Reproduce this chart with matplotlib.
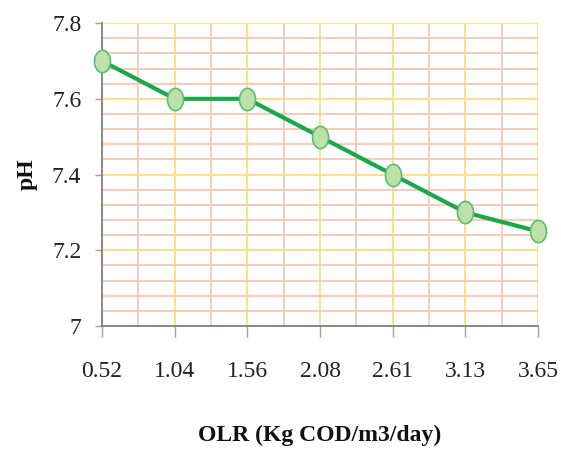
import matplotlib
matplotlib.use("Agg")
import matplotlib.pyplot as plt
import numpy as np
from matplotlib.path import Path
from matplotlib.ticker import MultipleLocator, FixedLocator

categories = ["0.52", "1.04", "1.56", "2.08", "2.61", "3.13", "3.65"]
ph_values = [7.7, 7.6, 7.6, 7.5, 7.4, 7.3, 7.25]
y_ticks = [7.0, 7.2, 7.4, 7.6, 7.8]
y_tick_labels = ["7", "7.2", "7.4", "7.6", "7.8"]

plt.rcParams['font.family'] = ['Liberation Serif', 'DejaVu Serif']

fig = plt.figure(figsize=(5.61, 4.5), dpi=100)
ax = fig.add_axes([0.182, 0.2756, 0.777, 0.673])

x = np.arange(len(categories))

# ellipse marker
t = np.linspace(0, 2*np.pi, 60)
verts = np.column_stack([0.72*np.cos(t), np.sin(t)])
ell = Path(verts, closed=True)

ax.plot(x, ph_values, color='#1aa84a', lw=3, marker=ell, markersize=16,
        markerfacecolor='#bfe0a8', markeredgecolor='#56c070', markeredgewidth=1.2,
        zorder=5, clip_on=False)

ax.set_xlim(0, len(categories) - 1)
ax.set_ylim(7.0, 7.8)
ax.set_xticks(x)
ax.set_xticklabels(categories)
ax.set_yticks(y_ticks)
ax.set_yticklabels(y_tick_labels)
ax.xaxis.set_minor_locator(FixedLocator(x[:-1] + 0.5))
ax.yaxis.set_minor_locator(MultipleLocator(0.04))

ax.grid(which='major', color='#ffdf85', lw=1.4, zorder=0)
ax.grid(which='minor', color='#f8c8b0', lw=1.3, zorder=0)
ax.set_axisbelow(True)

for s in ['top', 'right']:
    ax.spines[s].set_visible(False)
for s in ['left', 'bottom']:
    ax.spines[s].set_color('#808080')
    ax.spines[s].set_linewidth(1.3)
    ax.spines[s].set_zorder(3)

ax.tick_params(axis='both', which='major', colors='#a0a0a0', labelcolor='#222222',
               labelsize=17, width=1)
ax.tick_params(axis='x', which='major', length=8, pad=17)
ax.tick_params(axis='y', which='major', length=5, pad=10)
ax.tick_params(which='minor', length=0)

ax.set_ylabel('pH', fontsize=17, fontweight='bold', labelpad=10, color='#111111')
ax.set_xlabel('OLR (Kg COD/m3/day)', fontsize=17, fontweight='bold', labelpad=31, color='#111111')

fig.savefig('out.png', dpi=100)
